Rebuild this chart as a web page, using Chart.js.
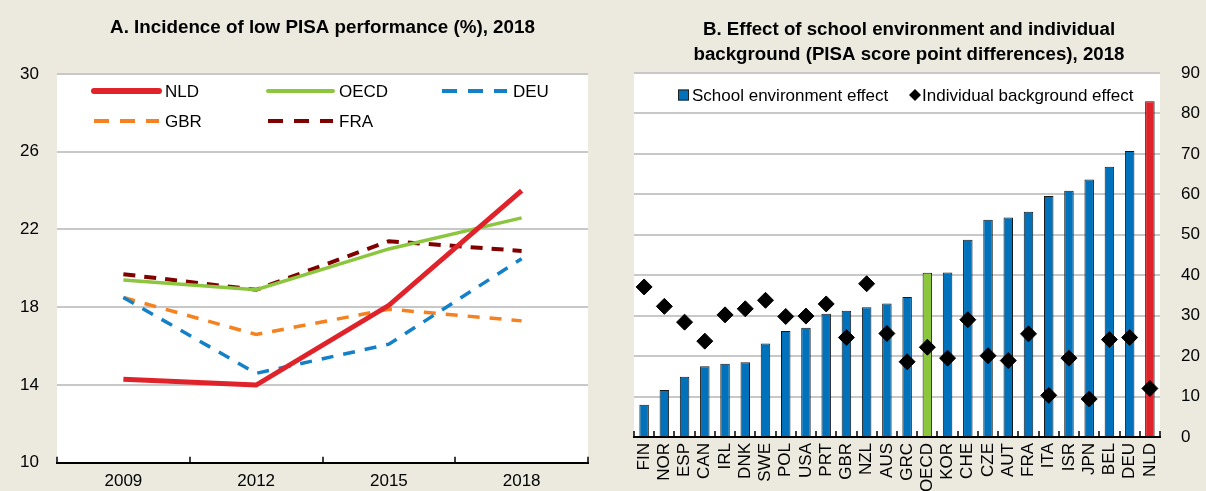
<!DOCTYPE html>
<html>
<head>
<meta charset="utf-8">
<script src="https://cdn.jsdelivr.net/npm/chart.js@4.4.0/dist/chart.umd.min.js"></script>
<style>
  html, body { margin: 0; padding: 0; background: #ECE9DF; }
  #wrap { position: relative; width: 1206px; height: 491px; overflow: hidden; }
  #chartA { position: absolute; left: 0; top: 0; }
  #chartB { position: absolute; left: 600px; top: 0; }
</style>
</head>
<body>
<div id="wrap">
  <canvas id="chartA" width="600" height="491"></canvas>
  <canvas id="chartB" width="606" height="491"></canvas>
</div>
<script>
// Panel A: incidence of low PISA performance (%)
const years = ['2009', '2012', '2015', '2018'];
const nldLow = [14.3, 14.0, 18.1, 24.0];
const oecdLow = [19.4, 18.9, 21.0, 22.6];
const deuLow = [18.5, 14.6, 16.1, 20.5];
const gbrLow = [18.5, 16.6, 17.9, 17.3];
const fraLow = [19.7, 18.9, 21.4, 20.9];

// Panel B: PISA score point differences
const countries = ['FIN', 'NOR', 'ESP', 'CAN', 'IRL', 'DNK', 'SWE', 'POL', 'USA', 'PRT', 'GBR', 'NZL', 'AUS',
  'GRC', 'OECD', 'KOR', 'CHE', 'CZE', 'AUT', 'FRA', 'ITA', 'ISR', 'JPN', 'BEL', 'DEU', 'NLD'];
const schoolEffect = [8.0, 11.6, 14.9, 17.5, 18.1, 18.5, 23.1, 26.2, 27.0, 30.5, 31.2, 32.1, 33.0,
  34.6, 40.6, 40.7, 48.8, 53.7, 54.3, 55.7, 59.6, 60.9, 63.7, 66.8, 70.7, 83.0];
const backgroundEffect = [37.1, 32.3, 28.4, 23.7, 30.2, 31.7, 33.8, 29.8, 29.9, 32.9, 24.6, 37.9, 25.6,
  18.6, 22.2, 19.5, 29.0, 20.1, 18.9, 25.5, 10.3, 19.5, 9.4, 24.1, 24.6, 12.0];

const FONT = "'Liberation Sans', Arial, sans-serif";
const GRID = '#C8C8C8';
const BLUE = '#0072BC';
const RED = '#E0232B';
const GREEN = '#8CC63F';

Chart.defaults.font.family = FONT;
Chart.defaults.font.size = 17;
Chart.defaults.color = '#000';

// white plot area on the beige page
const plotBg = {
  id: 'plotBg',
  beforeDraw(chart) {
    const { ctx, chartArea: a } = chart;
    ctx.save();
    ctx.fillStyle = '#fff';
    ctx.fillRect(a.left, a.top, a.right - a.left, a.bottom - a.top);
    ctx.restore();
  }
};

// small tick marks pointing into the plot, between categories
const innerTicks = {
  id: 'innerTicks',
  afterDraw(chart) {
    const x = chart.scales.x;
    const n = x.ticks.length;
    const step = x.getPixelForValue(1) - x.getPixelForValue(0);
    const ctx = chart.ctx;
    ctx.save();
    ctx.strokeStyle = '#000';
    ctx.lineWidth = 1.5;
    ctx.beginPath();
    for (let i = 0; i <= n; i++) {
      const px = Math.round(x.getPixelForValue(0) - step / 2 + i * step);
      ctx.moveTo(px, x.top);
      ctx.lineTo(px, x.top - 6);
    }
    ctx.stroke();
    ctx.restore();
  }
};

// nudge the panel B title a little left, as in the original
const titleShift = {
  id: 'titleShift',
  afterLayout(chart) {
    chart.titleBlock.left -= 11;
    chart.titleBlock.right -= 11;
  }
};

// legend A: two rows, three columns, inside the plot
const legendA = {
  id: 'legendA',
  afterDraw(chart) {
    const { ctx, chartArea: a } = chart;
    const cols = [37, 211, 385];
    ctx.save();
    ctx.font = '17px ' + FONT;
    ctx.textBaseline = 'middle';
    chart.data.datasets.forEach((ds, i) => {
      const x = a.left + cols[i % 3];
      const y = a.top + 17 + Math.floor(i / 3) * 30;
      ctx.strokeStyle = ds.borderColor;
      ctx.lineWidth = i === 0 ? 6 : 4;
      ctx.lineCap = ds.borderDash ? 'butt' : 'round';
      ctx.setLineDash(ds.borderDash ? [15, 11] : []);
      ctx.beginPath();
      ctx.moveTo(x, y);
      ctx.lineTo(x + 65, y);
      ctx.stroke();
      ctx.fillStyle = '#000';
      ctx.fillText(ds.label, x + 71, y + 1);
    });
    ctx.restore();
  }
};

// legend B: square and diamond markers on one row
const legendB = {
  id: 'legendB',
  afterDraw(chart) {
    const { ctx, chartArea: a } = chart;
    const y = a.top + 22;
    ctx.save();
    ctx.font = '17px ' + FONT;
    ctx.textBaseline = 'middle';
    ctx.fillStyle = BLUE;
    ctx.strokeStyle = '#222';
    ctx.lineWidth = 1;
    ctx.fillRect(a.left + 44, y - 5.5, 11, 11);
    ctx.strokeRect(a.left + 44.5, y - 5, 10, 10);
    ctx.fillStyle = '#000';
    ctx.fillText(chart.data.datasets[1].label, a.left + 58, y + 1);
    ctx.beginPath();
    const dx = a.left + 281;
    ctx.moveTo(dx - 6, y);
    ctx.lineTo(dx, y - 6);
    ctx.lineTo(dx + 6, y);
    ctx.lineTo(dx, y + 6);
    ctx.closePath();
    ctx.fill();
    ctx.fillText(chart.data.datasets[0].label, a.left + 288, y + 1);
    ctx.restore();
  }
};

new Chart(document.getElementById('chartA'), {
  type: 'line',
  data: {
    labels: years,
    datasets: [
      { label: 'NLD', data: nldLow, borderColor: RED, borderWidth: 5 },
      { label: 'OECD', data: oecdLow, borderColor: GREEN, borderWidth: 3.5 },
      { label: 'DEU', data: deuLow, borderColor: '#1380C7', borderWidth: 3.5, borderDash: [12, 10] },
      { label: 'GBR', data: gbrLow, borderColor: '#F5821F', borderWidth: 3.5, borderDash: [12, 10] },
      { label: 'FRA', data: fraLow, borderColor: '#800000', borderWidth: 4, borderDash: [12, 9] }
    ]
  },
  options: {
    responsive: false,
    animation: false,
    events: [],
    layout: { padding: { left: 0, right: 12, top: 0, bottom: 0 } },
    elements: { point: { radius: 0 }, line: { tension: 0 } },
    plugins: {
      legend: { display: false },
      tooltip: { enabled: false },
      title: {
        display: true,
        fullSize: false,
        text: 'A. Incidence of low PISA performance (%), 2018',
        font: { size: 18.8, weight: 'bold', lineHeight: 1.2 },
        padding: { top: 16.5, bottom: 34.9 }
      }
    },
    scales: {
      x: {
        offset: true,
        grid: { display: true, drawOnChartArea: false, drawTicks: false },
        border: { display: true, color: '#000', width: 2 },
        ticks: { padding: 8 },
        afterFit: s => { s.height = 26; }
      },
      y: {
        min: 10,
        max: 30,
        ticks: { stepSize: 4, padding: 18 },
        grid: { color: GRID, lineWidth: 2, drawTicks: false },
        border: { display: false },
        afterFit: s => { s.width = 57; }
      }
    }
  },
  plugins: [plotBg, innerTicks, legendA]
});

new Chart(document.getElementById('chartB'), {
  type: 'bar',
  data: {
    labels: countries,
    datasets: [
      {
        type: 'line',
        label: 'Individual background effect',
        data: backgroundEffect,
        showLine: false,
        pointStyle: 'rectRot',
        pointRadius: 8,
        pointBackgroundColor: '#000',
        pointBorderColor: '#000',
        pointBorderWidth: 1,
        order: 0
      },
      {
        label: 'School environment effect',
        data: schoolEffect,
        backgroundColor: countries.map(c => c === 'NLD' ? RED : c === 'OECD' ? GREEN : BLUE),
        borderColor: '#1a1a1a',
        borderWidth: 1,
        barPercentage: 0.47,
        categoryPercentage: 1,
        order: 1
      }
    ]
  },
  options: {
    responsive: false,
    animation: false,
    events: [],
    layout: { padding: { left: 34, right: 0, top: 0, bottom: 0 } },
    plugins: {
      legend: { display: false },
      tooltip: { enabled: false },
      title: {
        display: true,
        text: ['B. Effect of school environment and individual',
          'background (PISA score point differences), 2018'],
        font: { size: 18.7, weight: 'bold', lineHeight: 1.375 },
        padding: { top: 16.5, bottom: 5.1 }
      }
    },
    scales: {
      x: {
        grid: { display: true, drawOnChartArea: false, drawTicks: false },
        border: { display: true, color: '#000', width: 2 },
        ticks: { minRotation: 90, maxRotation: 90, padding: 6, autoSkip: false },
        afterFit: s => { s.height = 54; }
      },
      y: {
        position: 'right',
        min: 0,
        max: 90,
        ticks: { stepSize: 10, padding: 21 },
        grid: { color: GRID, lineWidth: 2, drawTicks: false },
        border: { display: false },
        afterFit: s => { s.width = 46; }
      }
    }
  },
  plugins: [plotBg, innerTicks, titleShift, legendB]
});
</script>
</body>
</html>
